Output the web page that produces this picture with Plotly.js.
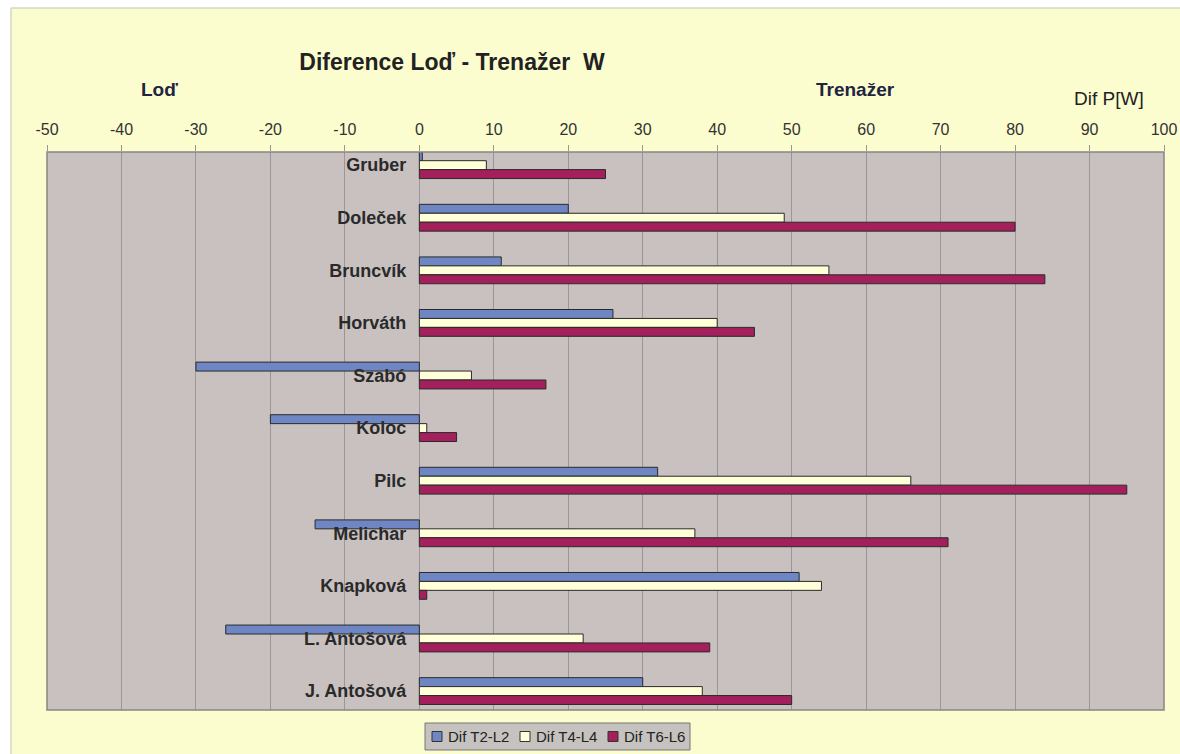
<!DOCTYPE html>
<html>
<head>
<meta charset="utf-8">
<script src="https://cdn.plot.ly/plotly-3.0.1.min.js"></script>
<style>html,body{margin:0;padding:0;background:#fcfdcf;}#chart{width:1180px;height:754px;}</style>
</head>
<body>
<div id="chart"></div>
<script>
var categories = ["Gruber", "Doleček", "Bruncvík", "Horváth", "Szabó", "Koloc", "Pilc", "Melichar", "Knapková", "L. Antošová", "J. Antošová"];
var difT2L2 = [0.4, 20, 11, 26, -30, -20, 32, -14, 51, -26, 30];
var difT4L4 = [9, 49, 55, 40, 7, 1, 66, 37, 54, 22, 38];
var difT6L6 = [25, 80, 84, 45, 17, 5, 95, 71, 1, 39, 50];
var seriesNames = ["Dif T2-L2", "Dif T4-L4", "Dif T6-L6"];
var xTicks = [-50, -40, -30, -20, -10, 0, 10, 20, 30, 40, 50, 60, 70, 80, 90, 100];

var colors = ["#6f86c4", "#ffffd8", "#a3205c"];
var series = [difT2L2, difT4L4, difT6L6];
var traces = series.map(function (vals, i) {
  return {
    type: "bar",
    orientation: "h",
    name: seriesNames[i],
    x: vals,
    y: categories,
    showlegend: false,
    marker: { color: colors[i], line: { color: "#2a2a2a", width: 1 } }
  };
});

var FONT = "Liberation Sans, Arial, sans-serif";
var M = { l: 47, r: 16, t: 152, b: 44 };
var W = 1180, H = 754;
var PW = W - M.l - M.r, PH = H - M.t - M.b;
function px(x) { return (x - M.l) / PW; }
function py(y) { return (H - M.b - y) / PH; }

var shapes = [
  { type: "rect", xref: "paper", yref: "paper", x0: 0, x1: 1, y0: 0, y1: 1,
    line: { color: "#8a8484", width: 1.5 }, fillcolor: "rgba(0,0,0,0)", layer: "above" },
  { type: "rect", xref: "paper", yref: "paper", x0: px(-5), x1: px(11), y0: py(760), y1: py(-5),
    line: { width: 0 }, fillcolor: "#ffffff", layer: "below" },
  { type: "rect", xref: "paper", yref: "paper", x0: px(-5), x1: px(1185), y0: py(8), y1: py(-5),
    line: { width: 0 }, fillcolor: "#ffffff", layer: "below" },
  { type: "line", xref: "paper", yref: "paper", x0: px(11), x1: px(11), y0: py(760), y1: py(8),
    line: { color: "#d6d6c6", width: 1.5 } },
  { type: "line", xref: "paper", yref: "paper", x0: px(11), x1: px(1185), y0: py(8), y1: py(8),
    line: { color: "#d6d6c6", width: 1.5 } },
  // legend box
  { type: "rect", xref: "paper", yref: "paper", x0: px(425), x1: px(690), y0: py(750), y1: py(723),
    line: { color: "#777", width: 1 }, fillcolor: "#c6c2bf", layer: "above" }
];
var annotations = [
  { text: "<b>Loď</b>", xref: "paper", yref: "paper", x: px(159), y: py(90), showarrow: false,
    font: { family: FONT, size: 19, color: "#1f2540" }, xanchor: "center", yanchor: "middle" },
  { text: "<b>Trenažer</b>", xref: "paper", yref: "paper", x: px(855), y: py(90), showarrow: false,
    font: { family: FONT, size: 19, color: "#1f2540" }, xanchor: "center", yanchor: "middle" },
  { text: "Dif P[W]", xref: "paper", yref: "paper", x: px(1109), y: py(98), showarrow: false,
    font: { family: FONT, size: 19, color: "#222" }, xanchor: "center", yanchor: "middle" }
];
// legend items
var legX = [432, 520, 608];
seriesNames.forEach(function (name, i) {
  shapes.push({ type: "rect", xref: "paper", yref: "paper",
    x0: px(legX[i]), x1: px(legX[i] + 10), y0: py(741.5), y1: py(731.5),
    line: { color: "#333", width: 1 }, fillcolor: colors[i], layer: "above" });
  annotations.push({ text: name, xref: "paper", yref: "paper", x: px(legX[i] + 14), y: py(736.5),
    xanchor: "left", yanchor: "middle", showarrow: false,
    font: { family: FONT, size: 15, color: "#222" } });
});

var layout = {
  width: W,
  height: H,
  margin: { l: M.l, r: M.r, t: M.t, b: M.b, autoexpand: false },
  paper_bgcolor: "#fcfdcf",
  plot_bgcolor: "#c8c1c0",
  barmode: "group",
  bargap: 0.49,
  bargroupgap: 0,
  showlegend: false,
  hovermode: false,
  font: { family: FONT, color: "#222" },
  title: {
    text: "<b>Diference Loď - Trenažer  W</b>",
    font: { family: FONT, size: 23, color: "#222" },
    x: 452 / W, xanchor: "center", xref: "container",
    y: 1 - 62 / H, yanchor: "middle", yref: "container"
  },
  xaxis: {
    side: "top",
    range: [-50, 100],
    tickvals: xTicks,
    ticktext: xTicks.map(String),
    showgrid: true,
    gridcolor: "#9c9696",
    gridwidth: 1,
    zeroline: true,
    zerolinecolor: "#9c9696",
    zerolinewidth: 1,
    ticks: "outside",
    ticklen: 6,
    tickcolor: "#9c9696",
    ticklabelstandoff: 4,
    tickfont: { family: FONT, size: 16, color: "#333" },
    showline: false,
    fixedrange: true
  },
  yaxis: {
    type: "category",
    categoryorder: "array",
    categoryarray: categories,
    range: [10.36, -0.25],
    autorange: false,
    anchor: "free",
    position: 1 / 3,
    showgrid: false,
    zeroline: false,
    showline: false,
    ticks: "",
    ticklabelstandoff: 13,
    tickfont: { family: FONT, size: 18, color: "#2a2a2a", weight: "bold" },
    fixedrange: true
  },
  annotations: annotations,
  shapes: shapes
};

Plotly.newPlot("chart", traces, layout, { staticPlot: true, displayModeBar: false });
</script>
</body>
</html>
